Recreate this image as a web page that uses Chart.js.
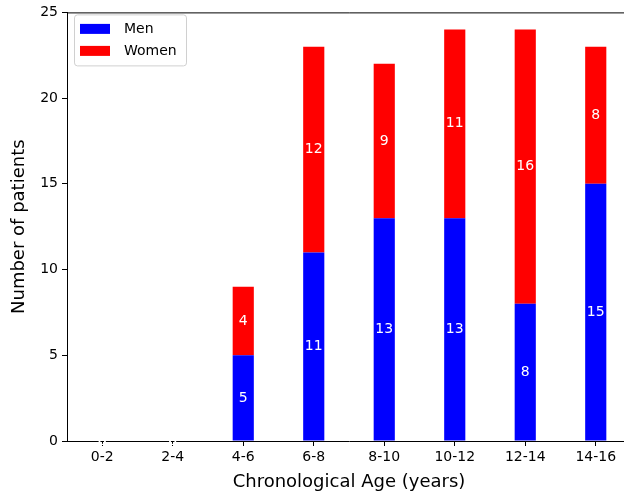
<!DOCTYPE html>
<html>
<head>
<meta charset="utf-8">
<style>
  html, body { margin: 0; padding: 0; background: #fff; overflow: hidden; }
  #wrap { width: 640px; height: 495px; position: relative; }
</style>
<script src="https://cdn.jsdelivr.net/npm/chart.js@4.4.0/dist/chart.umd.min.js"></script>
</head>
<body>
<div id="wrap"><canvas id="c" width="640" height="495"></canvas></div>
<script>
const categories = ['0-2', '2-4', '4-6', '6-8', '8-10', '10-12', '12-14', '14-16'];
const menValues = [0, 0, 5, 11, 13, 13, 8, 15];
const womenValues = [0, 0, 4, 12, 9, 11, 16, 8];
const yTicks = [0, 5, 10, 15, 20, 25];

const FONT = '"DejaVu Sans", sans-serif';

const framePlugin = {
  id: 'frame',
  afterDraw(chart) {
    const { ctx, chartArea: a } = chart;
    ctx.save();
    ctx.strokeStyle = '#000';
    ctx.lineWidth = 1;
    ctx.beginPath();
    ctx.moveTo(a.left + 0.5, a.bottom);
    ctx.lineTo(a.left + 0.5, a.top + 0.5);
    ctx.lineTo(a.right, a.top + 0.5);
    ctx.stroke();
    ctx.restore();
  }
};

const labelPlugin = {
  id: 'barLabels',
  afterDatasetsDraw(chart) {
    const { ctx } = chart;
    ctx.save();
    ctx.fillStyle = '#fff';
    ctx.font = '14px ' + FONT;
    ctx.textAlign = 'center';
    ctx.textBaseline = 'middle';
    chart.data.datasets.forEach((ds, di) => {
      const meta = chart.getDatasetMeta(di);
      meta.data.forEach((bar, i) => {
        const { x, y, base } = bar.getProps(['x', 'y', 'base'], true);
        ctx.fillText(String(ds.data[i]), x, (y + base) / 2);
      });
    });
    ctx.restore();
  }
};

const legendPlugin = {
  id: 'boxLegend',
  afterDraw(chart) {
    const { ctx, chartArea: a } = chart;
    const x0 = a.left + 7.5, y0 = a.top + 2.5, w = 112, h = 51, r = 3;
    ctx.save();
    ctx.fillStyle = 'rgba(255,255,255,0.8)';
    ctx.strokeStyle = '#d0d0d0';
    ctx.lineWidth = 1;
    ctx.beginPath();
    ctx.roundRect(x0, y0, w, h, r);
    ctx.fill();
    ctx.stroke();
    ctx.font = '14px ' + FONT;
    ctx.textBaseline = 'middle';
    ctx.textAlign = 'left';
    chart.data.datasets.forEach((ds, i) => {
      const cy = y0 + 14 + i * 22;
      ctx.fillStyle = ds.backgroundColor;
      ctx.fillRect(x0 + 5.5, cy - 5, 30, 10);
      ctx.fillStyle = '#000';
      ctx.fillText(ds.label, x0 + 49.5, cy);
    });
    ctx.restore();
  }
};

new Chart(document.getElementById('c'), {
  type: 'bar',
  data: {
    labels: categories,
    datasets: [
      { label: 'Men', data: menValues, backgroundColor: '#0000ff', barPercentage: 0.3, categoryPercentage: 1.0 },
      { label: 'Women', data: womenValues, backgroundColor: '#ff0000', barPercentage: 0.3, categoryPercentage: 1.0 }
    ]
  },
  options: {
    responsive: false,
    animation: false,
    devicePixelRatio: 1,
    layout: { padding: { top: 10, right: 9, left: 0, bottom: 0 } },
    plugins: { legend: { display: false }, tooltip: { enabled: false } },
    scales: {
      x: {
        stacked: true,
        grid: { offset: false, drawOnChartArea: false, drawTicks: true, tickLength: 5, color: '#000' },
        border: { display: true, color: '#000', width: 1 },
        ticks: { color: '#000', font: { family: FONT, size: 14 }, padding: 3, maxRotation: 0 },
        title: { display: true, text: 'Chronological Age (years)', color: '#000', font: { family: FONT, size: 18 }, padding: { top: 0, bottom: 2 } },
        afterFit(s) { s.height = 54; }
      },
      y: {
        stacked: true,
        min: 0,
        max: 25,
        afterBuildTicks(s) { s.ticks = yTicks.map(v => ({ value: v })); },
        grid: { drawOnChartArea: false, drawTicks: true, tickLength: 5, color: '#000' },
        border: { display: true, color: '#000', width: 1 },
        ticks: { color: '#000', font: { family: FONT, size: 14 }, padding: 4 },
        title: { display: true, text: 'Number of patients', color: '#000', font: { family: FONT, size: 18 }, padding: { top: 9, bottom: 0 } },
        afterFit(s) { s.width = 67; }
      }
    }
  },
  plugins: [framePlugin, labelPlugin, legendPlugin]
});
</script>
</body>
</html>
